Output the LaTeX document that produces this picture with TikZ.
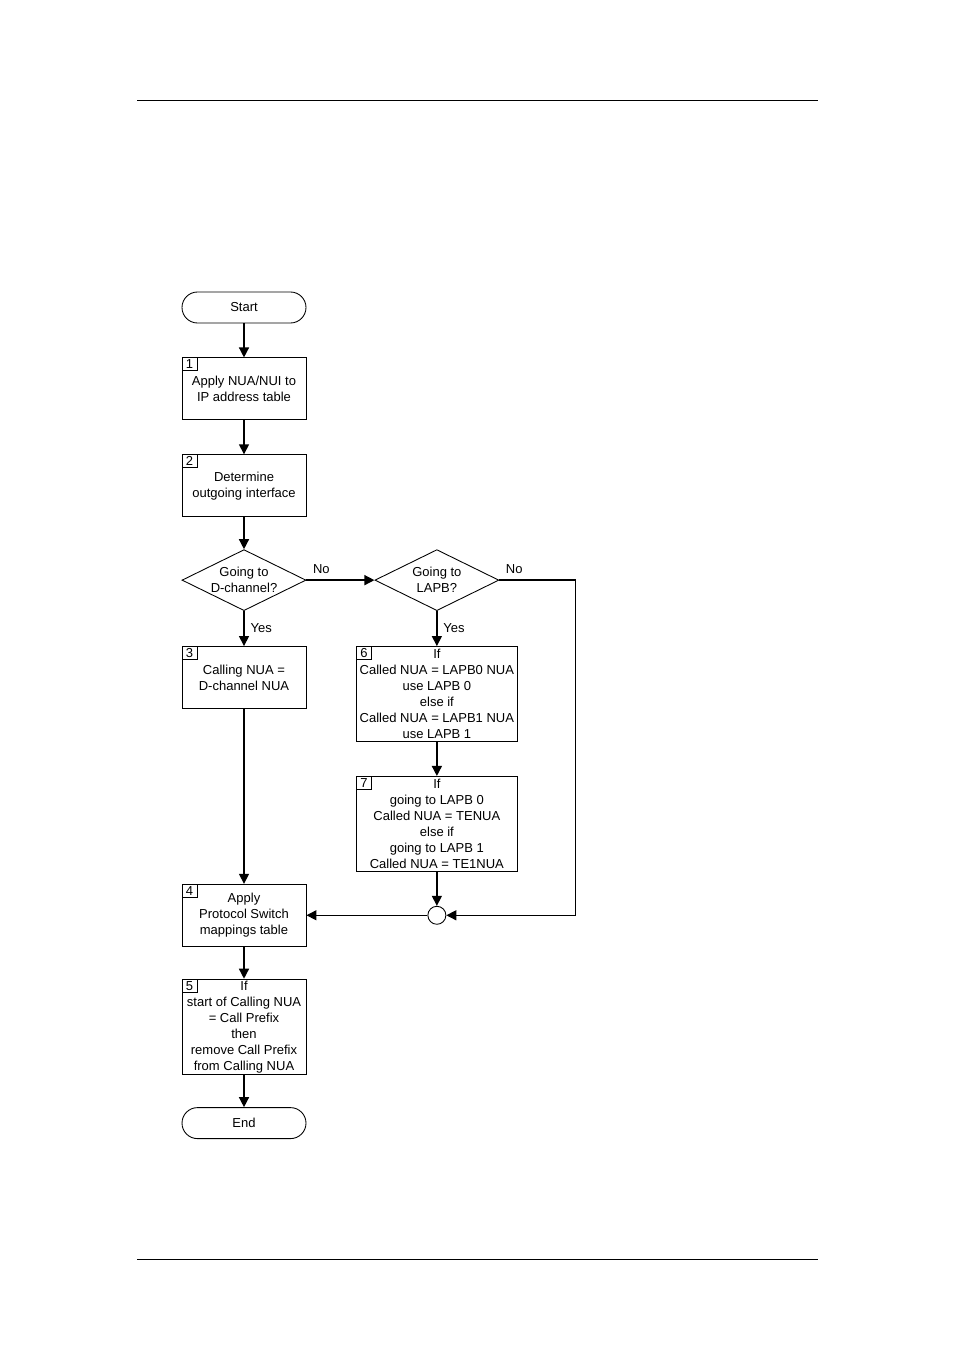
\documentclass[tikz,border=0pt]{standalone}
\usepackage{fontspec}
\setmainfont{Liberation Sans}
\usetikzlibrary{arrows.meta, positioning, shapes.geometric}

\begin{document}
\begin{tikzpicture}[
  box/.style={draw, line width=0.5pt, minimum width=2.48cm, minimum height=1.24cm,
    align=center, inner sep=1pt, font=\fontsize{7.4}{9.1}\selectfont},
  widebox/.style={box, minimum width=3.22cm, minimum height=1.9cm},
  term/.style={box, rounded corners=0.31cm, minimum height=0.62cm},
  decision/.style={draw, diamond, aspect=2, line width=0.5pt, minimum width=2.48cm,
    minimum height=1.22cm, inner sep=0pt, align=center, font=\fontsize{7.4}{9.1}\selectfont},
  tag/.style={draw, line width=0.5pt, anchor=north west, minimum width=0.3cm,
    minimum height=0.26cm, inner sep=0pt, font=\fontsize{7.4}{9.1}\selectfont},
  junction/.style={draw, circle, line width=0.5pt, minimum size=0.36cm, inner sep=0pt},
  arrow/.style={-{Triangle[length=0.2cm, width=0.2cm]}, line width=0.8pt},
  lbl/.style={font=\fontsize{7.4}{9.1}\selectfont},
  node distance=0.68cm
]
\useasboundingbox (0,0) rectangle (19.08,-27);
\draw[line width=0.5pt] (2.74,-2.0) -- (16.36,-2.0);
\draw[line width=0.5pt] (2.74,-25.18) -- (16.36,-25.18);

\node[term] (start) at (4.88,-6.15) {Start};
\node[box, below=of start] (b1) {Apply NUA/NUI to\\IP address table};
\node[box, below=of b1] (b2) {Determine\\outgoing interface};
\node[decision, below=0.64cm of b2] (d1) {Going to\\D-channel?};
\node[box, below=0.7cm of d1] (b3) {Calling NUA =\\D-channel NUA};
\node[decision, right=1.36cm of d1] (d2) {Going to\\LAPB?};
\node[widebox, below=0.7cm of d2] (b6) {If\\Called NUA = LAPB0 NUA\\use LAPB 0\\else if\\Called NUA = LAPB1 NUA\\use LAPB 1};
\node[widebox, below=of b6] (b7) {If\\going to LAPB 0\\Called NUA = TENUA\\else if\\going to LAPB 1\\Called NUA = TE1NUA};
\node[junction, below=of b7] (junc) {};
\node[box] (b4) at (b3 |- junc) {Apply\\Protocol Switch\\mappings table};
\node[box, below=0.64cm of b4, minimum height=1.88cm] (b5) {If\\start of Calling NUA\\= Call Prefix\\then\\remove Call Prefix\\from Calling NUA};
\node[term, below=0.64cm of b5] (end) {End};
\coordinate[right=1.52cm of d2.east] (nofar);

% step numbers
\node[tag] (t1) at (b1.north west) {1};
\node[tag] (t2) at (b2.north west) {2};
\node[tag] (t3) at (b3.north west) {3};
\node[tag] (t4) at (b4.north west) {4};
\node[tag] (t5) at (b5.north west) {5};
\node[tag] (t6) at (b6.north west) {6};
\node[tag] (t7) at (b7.north west) {7};

\draw[arrow] (start) -- (b1);
\draw[arrow] (b1) -- (b2);
\draw[arrow] (b2) -- (d1);
\draw[arrow] (d1) -- (b3) node[midway, right, lbl] {Yes};
\draw[arrow] (d1.east) node[above right, lbl] {No} -- (d2.west);
\draw[arrow] (d2) -- (b6) node[midway, right, lbl] {Yes};
\draw[arrow] (b6) -- (b7);
\draw[arrow] (b7) -- (junc);
\draw[arrow] (d2.east) node[above right, lbl] {No} -- (nofar) |- (junc.east);
\draw[arrow] (junc) -- (b4);
\draw[arrow] (b3) -- (b4);
\draw[arrow] (b4) -- (b5);
\draw[arrow] (b5) -- (end);
\end{tikzpicture}
\end{document}
